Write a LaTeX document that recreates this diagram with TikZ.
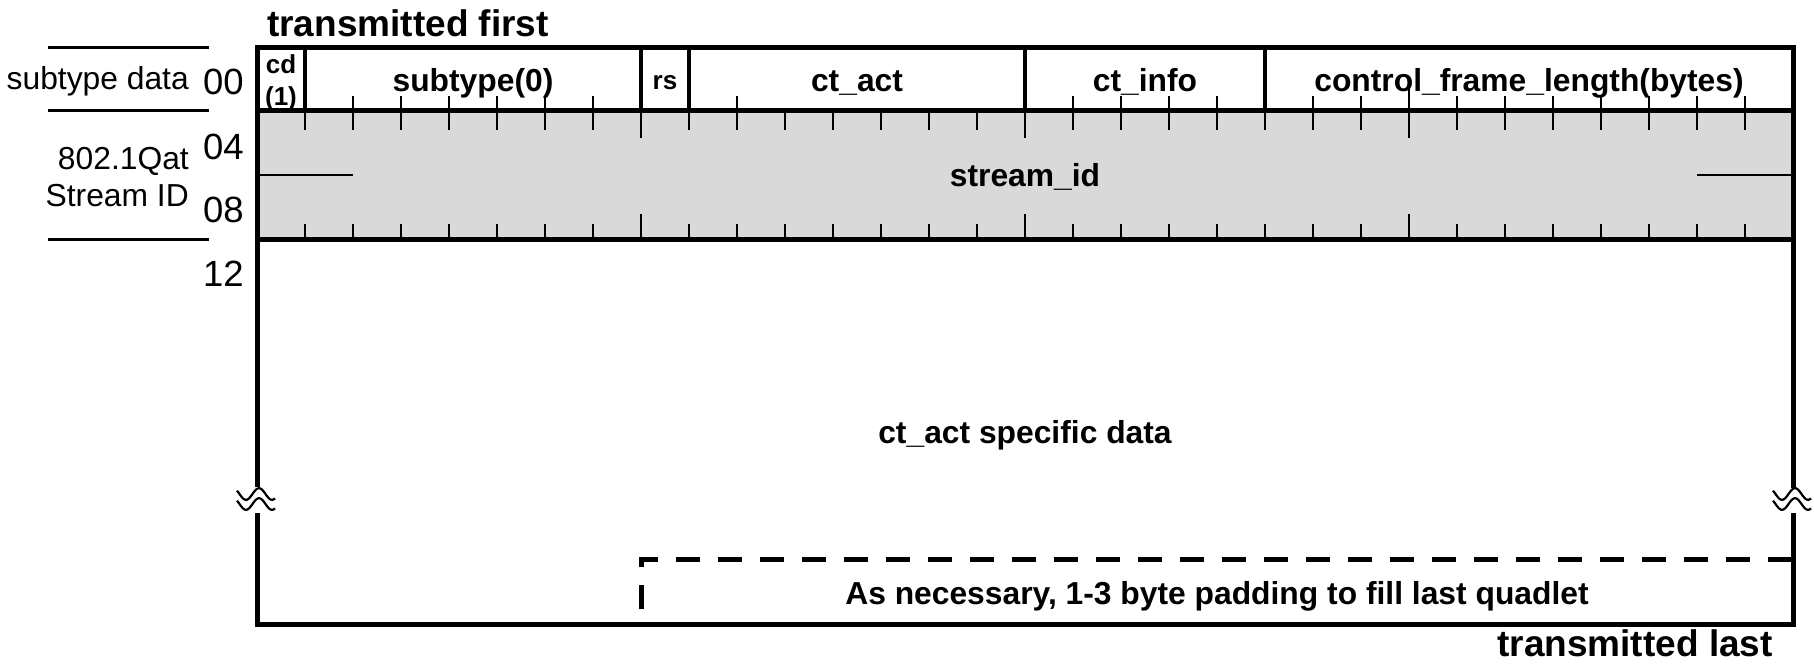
\documentclass[tikz,border=0pt]{standalone}
\usepackage{fontspec}
\setmainfont{Liberation Sans}
\begin{document}
\begin{tikzpicture}[x=1pt,y=-1pt,
  frame/.style={line width=5pt},
  divider/.style={line width=4.5pt},
  tick/.style={line width=2.6pt},
  thinline/.style={line width=2.3pt},
  wave/.style={line width=2.2pt, domain=-20:18, samples=50, smooth, variable=\t},
  lbl/.style={font=\fontsize{31.8}{36}\selectfont\bfseries, inner sep=0pt, anchor=base},
  small/.style={font=\fontsize{26}{28}\selectfont\bfseries, inner sep=0pt, anchor=base},
  side/.style={font=\fontsize{31.8}{36}\selectfont, inner sep=0pt, anchor=base east},
  num/.style={font=\fontsize{36.5}{40}\selectfont, inner sep=0pt, anchor=base east},
  title/.style={font=\fontsize{37}{40}\selectfont\bfseries, inner sep=0pt},
]
\def\L{257}\def\R{1793}\def\B{48}
\def\yA{47.5}\def\yB{110.5}\def\yC{239.5}\def\yD{624.5}
\useasboundingbox (0,0) rectangle (1814,664);

% stream row fill
\fill[black!15] (\L,\yB) rectangle (\R,\yC);

% texts
\node[title, anchor=base west] (tfirst) at (267,36.5) {transmitted first};
\node[title, anchor=base east] (tlast) at (1773,656) {transmitted last};
\node[side] (sdata) at (189,89) {subtype data};
\node[side] (qat) at (189,169) {802.1Qat};
\node[side] (sid) at (189,206) {Stream ID};
\node[num] (n00) at (244,94) {00};
\node[num] (n04) at (244,159) {04};
\node[num] (n08) at (244,222) {08};
\node[num] (n12) at (244,286) {12};
\node[small] (cd) at (281,73) {cd};
\node[small] (cdone) at (281,105) {(1)};
\node[lbl] (subt) at ({\L+4.5*\B},91) {subtype(0)};
\node[small] (rs) at ({\L+8.5*\B},89) {rs};
\node[lbl] (ctact) at ({\L+12.5*\B},91) {ct\_act};
\node[lbl] (ctinfo) at ({\L+18.5*\B},91) {ct\_info};
\node[lbl] (cfl) at ({\L+26.5*\B},91) {control\_frame\_length(bytes)};
\node[lbl] (streamid) at (1025,186) {stream\_id};
\node[lbl] (spec) at (1025,443) {ct\_act specific data};
\node[lbl] (pad) at ({(\L+8*\B+\R)/2},604) {As necessary, 1-3 byte padding to fill last quadlet};

% left side rules
\foreach \y in {\yA,\yB,\yC} \draw[thinline] (48,\y) -- (209,\y);

% row 0 ticks
\foreach \b in {2,...,7,10,...,15,17,18,19,20,22,23,25,26,...,31}
  \draw[tick] ({\L+\b*\B},\yB) -- ++(0,-15);
\draw[tick] ({\L+24*\B},\yB) -- ++(0,-24);

% stream row ticks
\foreach \b in {1,...,31} {
  \draw[tick] ({\L+\b*\B},\yB) -- ++(0,19);
  \draw[tick] ({\L+\b*\B},\yC) -- ++(0,-15.5);
}
\foreach \b in {8,16,24} {
  \draw[tick] ({\L+\b*\B},\yB) -- ++(0,27.5);
  \draw[tick] ({\L+\b*\B},\yC) -- ++(0,-26);
}

% stream id half lines
\draw[thinline] (\L,175) -- ({\L+2*\B},175);
\draw[thinline] ({\L+30*\B},175) -- (\R,175);

% field dividers
\foreach \b in {1,8,9,16,21}
  \draw[divider] ({\L+\b*\B},\yA) -- ({\L+\b*\B},\yB);

% frame
\draw[frame] (\L,\yB) -- (\R,\yB);
\draw[frame] (\L,\yC) -- (\R,\yC);
\draw[frame] (\L,487) -- (\L,\yA) -- (\R,\yA) -- (\R,487.5);
\draw[frame] (\R,512.5) -- (\R,\yD) -- (\L,\yD) -- (\L,512.5);

% break marks
\foreach \x in {\L,\R} {
  \draw[wave] plot ({\x+\t}, {494-5.8*cos(360*(\t-2)/26)});
  \draw[wave] plot ({\x+\t}, {504-5.8*cos(360*(\t-2)/26)});
}

% padding dashed line
\draw[line width=5pt, dash pattern=on 24pt off 18pt] ({\L+8*\B},609) -- ({\L+8*\B},559.5) -- (\R,559.5);
\end{tikzpicture}
\end{document}
